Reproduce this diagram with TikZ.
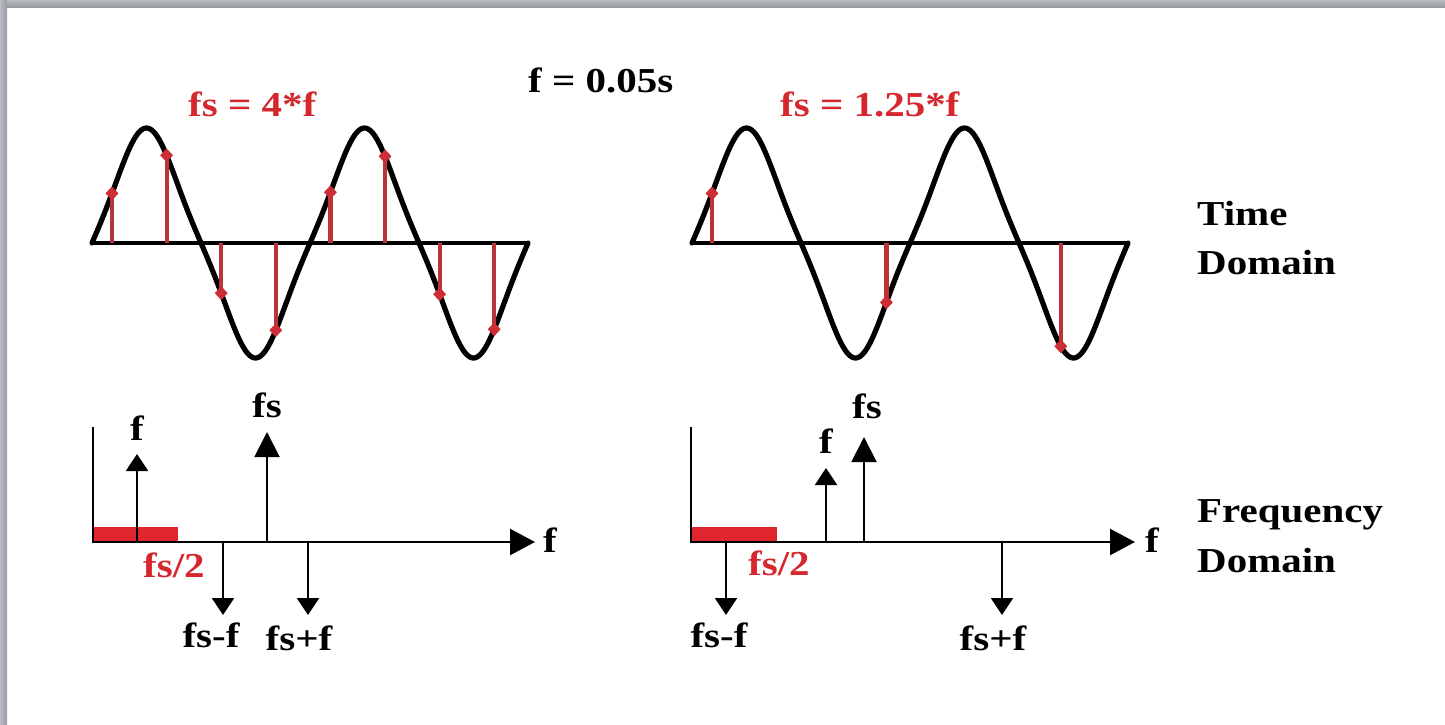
\documentclass[tikz,border=0pt]{standalone}
\usepackage{fontspec}
\setmainfont{Liberation Serif}[FakeStretch=1.17]
\usetikzlibrary{arrows.meta,shapes.geometric}
\definecolor{txtred}{RGB}{214,38,46}
\definecolor{stemred}{RGB}{188,52,58}
\definecolor{dotred}{RGB}{205,45,52}
\definecolor{barred}{RGB}{222,38,44}
\definecolor{frameA}{RGB}{150,155,160}
\definecolor{frameB}{RGB}{185,189,193}
\begin{document}
\begin{tikzpicture}[x=1pt,y=-1pt,
  lbl/.style={font=\bfseries\fontsize{35}{40}\selectfont, inner sep=0pt, text=black},
  redlbl/.style={lbl, text=txtred},
  wave/.style={line width=5.2pt, line join=round, line cap=round},
  taxis/.style={line width=4.5pt},
  stem/.style={line width=4.2pt, draw=stemred},
  dot/.style={diamond, fill=dotred, minimum width=13pt, minimum height=14pt, inner sep=0pt},
  faxis/.style={line width=2.4pt},
  spec/.style={line width=2pt},
  tipS/.style={-{Triangle[width=22pt,length=17pt]}},
  tipL/.style={-{Triangle[width=25pt,length=25pt]}},
  tipAx/.style={-{Triangle[width=26pt,length=25pt]}}]
\useasboundingbox (0,0) rectangle (1445,724);
\fill[white] (0,0) rectangle (1445,724);
% frame edges
\shade[top color=frameB, bottom color=frameA] (0,0) rectangle (1445,7);
\shade[left color=frameB, right color=frameA] (0,0) rectangle (7,724);

% ---------- top texts ----------
\node[lbl, anchor=base west] (period) at (528,92) {f = 0.05s};
\node[redlbl, anchor=base west] (t1) at (188,116) {fs = 4*f};
\node[redlbl, anchor=base west] (t2) at (780,116) {fs = 1.25*f};
\node[lbl, anchor=base west] (time1) at (1197,225) {Time};
\node[lbl, anchor=base west] (time2) at (1197,274) {Domain};
\node[lbl, anchor=base west] (freq1) at (1197,522) {Frequency};
\node[lbl, anchor=base west] (freq2) at (1197,572) {Domain};

% ---------- left time domain ----------
\draw[wave] plot[domain=0:720,samples=300] ({92+0.605556*\x},{243-115*(sin(\x)-0.08*sin(3*\x))/1.08});
\coordinate (lax0) at (91,243);
\coordinate (lax1) at (530,243);
\draw[taxis] (lax0) -- (lax1);
\foreach \k in {0,...,7}{
  \pgfmathsetmacro\xs{112+54.6*\k}
  \pgfmathsetmacro\th{(\xs-92)/218*360}
  \pgfmathsetmacro\ys{243-115*(sin(\th)-0.08*sin(3*\th))/1.08}
  \coordinate (la\k) at (\xs,243);
  \coordinate (lb\k) at (\xs,\ys);
  \draw[stem] (la\k) -- (lb\k);
  \node[dot] (ld\k) at (lb\k) {};
}

% ---------- right time domain ----------
\draw[wave] plot[domain=0:720,samples=300] ({692+0.605556*\x},{243-115*(sin(\x)-0.08*sin(3*\x))/1.08});
\coordinate (rax0) at (690,243);
\coordinate (rax1) at (1130,243);
\draw[taxis] (rax0) -- (rax1);
\foreach \k in {0,...,2}{
  \pgfmathsetmacro\xs{712+174.4*\k}
  \pgfmathsetmacro\th{(\xs-692)/218*360}
  \pgfmathsetmacro\ys{243-115*(sin(\th)-0.08*sin(3*\th))/1.08}
  \coordinate (ra\k) at (\xs,243);
  \coordinate (rb\k) at (\xs,\ys);
  \draw[stem] (ra\k) -- (rb\k);
  \node[dot] (rd\k) at (rb\k) {};
}

% ---------- left frequency domain ----------
\fill[barred] (93,527) rectangle (178,542);
\coordinate (lfy) at (93,427);
\coordinate (lfo) at (93,542);
\coordinate (lfx) at (535,542);
\draw[faxis, tipAx] (lfy) -- (lfo) -- (lfx);
\node[lbl, anchor=base west] (lfxl) at (543,552) {f};
\node[redlbl, anchor=base west] (lhalf) at (143,577) {fs/2};
% f
\coordinate (lf0) at (137,542); \coordinate (lf1) at (137,454);
\draw[spec, tipS] (lf0) -- (lf1);
\node[lbl, anchor=base] (lfl) at (137,440) {f};
% fs
\coordinate (lfs0) at (267,542); \coordinate (lfs1) at (267,432);
\draw[spec, tipL] (lfs0) -- (lfs1);
\node[lbl, anchor=base] (lfsl) at (267,417) {fs};
% fs-f
\coordinate (lm0) at (223,542); \coordinate (lm1) at (223,615);
\draw[spec, tipS] (lm0) -- (lm1);
\node[lbl, anchor=base] (lml) at (211,647) {fs-f};
% fs+f
\coordinate (lp0) at (308,542); \coordinate (lp1) at (308,615);
\draw[spec, tipS] (lp0) -- (lp1);
\node[lbl, anchor=base] (lpl) at (299,650) {fs+f};

% ---------- right frequency domain ----------
\fill[barred] (691,527) rectangle (777,542);
\coordinate (rfy) at (691,427);
\coordinate (rfo) at (691,542);
\coordinate (rfx) at (1135,542);
\draw[faxis, tipAx] (rfy) -- (rfo) -- (rfx);
\node[lbl, anchor=base west] (rfxl) at (1145,552) {f};
\node[redlbl, anchor=base west] (rhalf) at (748,575) {fs/2};
% fs-f
\coordinate (rm0) at (726,542); \coordinate (rm1) at (726,615);
\draw[spec, tipS] (rm0) -- (rm1);
\node[lbl, anchor=base] (rml) at (719,647) {fs-f};
% f
\coordinate (rf0) at (826,542); \coordinate (rf1) at (826,468);
\draw[spec, tipS] (rf0) -- (rf1);
\node[lbl, anchor=base] (rfl) at (826,453) {f};
% fs
\coordinate (rfs0) at (864,542); \coordinate (rfs1) at (864,437);
\draw[spec, tipL] (rfs0) -- (rfs1);
\node[lbl, anchor=base] (rfsl) at (867,418) {fs};
% fs+f
\coordinate (rp0) at (1002,542); \coordinate (rp1) at (1002,615);
\draw[spec, tipS] (rp0) -- (rp1);
\node[lbl, anchor=base] (rpl) at (993,650) {fs+f};
\end{tikzpicture}
\end{document}
